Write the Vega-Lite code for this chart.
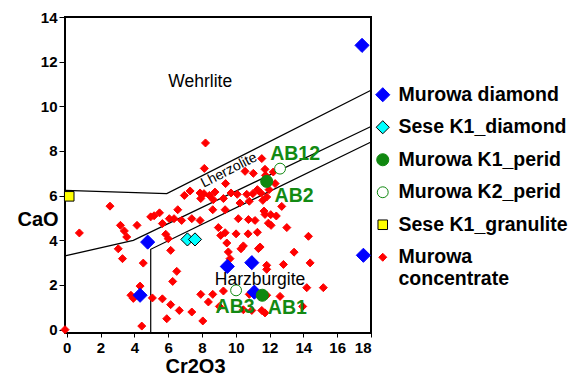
{
  "$schema": "https://vega.github.io/schema/vega-lite/v6.json",
  "width": 306,
  "height": 316,
  "autosize": {"type": "none"},
  "padding": {"left": 65, "top": 17, "right": 200, "bottom": 44},
  "background": "white",
  "config": {
    "view": {"stroke": "black", "strokeWidth": 2},
    "font": "Liberation Sans",
    "axis": {
      "domain": false,
      "grid": false,
      "tickColor": "black",
      "labelColor": "black",
      "labelFont": "Liberation Sans",
      "labelFontWeight": "bold",
      "labelFontSize": 15,
      "titleFont": "Liberation Sans",
      "titleFontWeight": "bold",
      "titleFontSize": 20,
      "titleColor": "black"
    },
    "legend": {
      "orient": "none",
      "legendX": 308,
      "legendY": 68,
      "labelFont": "Liberation Sans",
      "labelFontWeight": "bold",
      "labelFontSize": 19.5,
      "labelColor": "black",
      "labelLimit": 300,
      "labelLineHeight": 16,
      "rowPadding": 11.5,
      "labelOffset": 6
    }
  },
  "datasets": {
    "pts": [
      {"series": "Murowa concentrate", "x": -0.1, "y": 0.0},
      {"series": "Murowa concentrate", "x": 0.75, "y": 4.33},
      {"series": "Murowa concentrate", "x": 2.56, "y": 5.53},
      {"series": "Murowa concentrate", "x": 3.18, "y": 4.67},
      {"series": "Murowa concentrate", "x": 3.41, "y": 4.42},
      {"series": "Murowa concentrate", "x": 3.55, "y": 4.15},
      {"series": "Murowa concentrate", "x": 3.05, "y": 3.62},
      {"series": "Murowa concentrate", "x": 3.3, "y": 3.18},
      {"series": "Murowa concentrate", "x": 4.16, "y": 4.67},
      {"series": "Murowa concentrate", "x": 4.53, "y": 2.98},
      {"series": "Murowa concentrate", "x": 4.34, "y": 1.95},
      {"series": "Murowa concentrate", "x": 3.8, "y": 1.54},
      {"series": "Murowa concentrate", "x": 3.94, "y": 1.4},
      {"series": "Murowa concentrate", "x": 5.07, "y": 1.42},
      {"series": "Murowa concentrate", "x": 4.44, "y": 0.16},
      {"series": "Murowa concentrate", "x": 4.97, "y": 5.05},
      {"series": "Murowa concentrate", "x": 5.17, "y": 5.1},
      {"series": "Murowa concentrate", "x": 5.49, "y": 5.23},
      {"series": "Murowa concentrate", "x": 5.66, "y": 4.75},
      {"series": "Murowa concentrate", "x": 5.86, "y": 4.27},
      {"series": "Murowa concentrate", "x": 6.01, "y": 4.07},
      {"series": "Murowa concentrate", "x": 6.15, "y": 3.55},
      {"series": "Murowa concentrate", "x": 6.07, "y": 4.97},
      {"series": "Murowa concentrate", "x": 6.35, "y": 4.97},
      {"series": "Murowa concentrate", "x": 6.57, "y": 5.37},
      {"series": "Murowa concentrate", "x": 6.96, "y": 6.01},
      {"series": "Murowa concentrate", "x": 7.3, "y": 6.21},
      {"series": "Murowa concentrate", "x": 6.51, "y": 2.61},
      {"series": "Murowa concentrate", "x": 6.27, "y": 2.16},
      {"series": "Murowa concentrate", "x": 5.66, "y": 1.38},
      {"series": "Murowa concentrate", "x": 6.15, "y": 1.12},
      {"series": "Murowa concentrate", "x": 5.92, "y": 0.49},
      {"series": "Murowa concentrate", "x": 6.66, "y": 0.86},
      {"series": "Murowa concentrate", "x": 7.4, "y": 0.79},
      {"series": "Murowa concentrate", "x": 6.8, "y": 4.89},
      {"series": "Murowa concentrate", "x": 7.4, "y": 4.97},
      {"series": "Murowa concentrate", "x": 7.89, "y": 6.12},
      {"series": "Murowa concentrate", "x": 8.12, "y": 6.09},
      {"series": "Murowa concentrate", "x": 8.44, "y": 6.01},
      {"series": "Murowa concentrate", "x": 8.77, "y": 6.16},
      {"series": "Murowa concentrate", "x": 7.93, "y": 5.87},
      {"series": "Murowa concentrate", "x": 8.67, "y": 5.82},
      {"series": "Murowa concentrate", "x": 9.27, "y": 5.87},
      {"series": "Murowa concentrate", "x": 9.72, "y": 6.12},
      {"series": "Murowa concentrate", "x": 10.09, "y": 6.06},
      {"series": "Murowa concentrate", "x": 10.65, "y": 6.06},
      {"series": "Murowa concentrate", "x": 11.01, "y": 6.09},
      {"series": "Murowa concentrate", "x": 11.28, "y": 6.27},
      {"series": "Murowa concentrate", "x": 10.25, "y": 5.67},
      {"series": "Murowa concentrate", "x": 10.8, "y": 5.75},
      {"series": "Murowa concentrate", "x": 7.89, "y": 4.89},
      {"series": "Murowa concentrate", "x": 8.64, "y": 5.37},
      {"series": "Murowa concentrate", "x": 9.37, "y": 5.37},
      {"series": "Murowa concentrate", "x": 10.15, "y": 4.97},
      {"series": "Murowa concentrate", "x": 10.75, "y": 4.93},
      {"series": "Murowa concentrate", "x": 11.14, "y": 4.89},
      {"series": "Murowa concentrate", "x": 8.97, "y": 4.57},
      {"series": "Murowa concentrate", "x": 9.37, "y": 4.34},
      {"series": "Murowa concentrate", "x": 10.02, "y": 4.29},
      {"series": "Murowa concentrate", "x": 10.73, "y": 4.29},
      {"series": "Murowa concentrate", "x": 11.28, "y": 4.36},
      {"series": "Murowa concentrate", "x": 9.11, "y": 4.22},
      {"series": "Murowa concentrate", "x": 9.47, "y": 3.88},
      {"series": "Murowa concentrate", "x": 10.31, "y": 3.62},
      {"series": "Murowa concentrate", "x": 10.45, "y": 3.75},
      {"series": "Murowa concentrate", "x": 11.34, "y": 3.63},
      {"series": "Murowa concentrate", "x": 9.56, "y": 3.48},
      {"series": "Murowa concentrate", "x": 9.66, "y": 3.18},
      {"series": "Murowa concentrate", "x": 9.27, "y": 1.73},
      {"series": "Murowa concentrate", "x": 7.93, "y": 1.58},
      {"series": "Murowa concentrate", "x": 8.64, "y": 1.58},
      {"series": "Murowa concentrate", "x": 8.38, "y": 1.24},
      {"series": "Murowa concentrate", "x": 9.03, "y": 1.04},
      {"series": "Murowa concentrate", "x": 8.05, "y": 0.39},
      {"series": "Murowa concentrate", "x": 10.45, "y": 0.89},
      {"series": "Murowa concentrate", "x": 10.8, "y": 1.58},
      {"series": "Murowa concentrate", "x": 10.95, "y": 0.86},
      {"series": "Murowa concentrate", "x": 8.21, "y": 8.36},
      {"series": "Murowa concentrate", "x": 8.14, "y": 7.22},
      {"series": "Murowa concentrate", "x": 9.4, "y": 6.54},
      {"series": "Murowa concentrate", "x": 10.55, "y": 7.09},
      {"series": "Murowa concentrate", "x": 11.04, "y": 7.0},
      {"series": "Murowa concentrate", "x": 11.54, "y": 7.66},
      {"series": "Murowa concentrate", "x": 11.73, "y": 7.18},
      {"series": "Murowa concentrate", "x": 11.76, "y": 6.91},
      {"series": "Murowa concentrate", "x": 12.33, "y": 6.54},
      {"series": "Murowa concentrate", "x": 11.48, "y": 6.12},
      {"series": "Murowa concentrate", "x": 11.6, "y": 5.79},
      {"series": "Murowa concentrate", "x": 11.83, "y": 5.94},
      {"series": "Murowa concentrate", "x": 11.67, "y": 5.31},
      {"series": "Murowa concentrate", "x": 11.73, "y": 5.16},
      {"series": "Murowa concentrate", "x": 12.07, "y": 5.15},
      {"series": "Murowa concentrate", "x": 12.4, "y": 5.09},
      {"series": "Murowa concentrate", "x": 13.02, "y": 4.57},
      {"series": "Murowa concentrate", "x": 11.93, "y": 4.77},
      {"series": "Murowa concentrate", "x": 12.72, "y": 5.52},
      {"series": "Murowa concentrate", "x": 11.97, "y": 6.27},
      {"series": "Murowa concentrate", "x": 12.22, "y": 7.06},
      {"series": "Murowa concentrate", "x": 14.3, "y": 4.18},
      {"series": "Murowa concentrate", "x": 13.45, "y": 3.47},
      {"series": "Murowa concentrate", "x": 14.4, "y": 2.99},
      {"series": "Murowa concentrate", "x": 11.83, "y": 2.88},
      {"series": "Murowa concentrate", "x": 11.83, "y": 2.7},
      {"series": "Murowa concentrate", "x": 12.82, "y": 2.92},
      {"series": "Murowa concentrate", "x": 11.83, "y": 1.54},
      {"series": "Murowa concentrate", "x": 12.62, "y": 1.49},
      {"series": "Murowa concentrate", "x": 14.2, "y": 1.88},
      {"series": "Murowa concentrate", "x": 15.18, "y": 1.88},
      {"series": "Murowa concentrate", "x": 13.96, "y": 1.04},
      {"series": "Murowa concentrate", "x": 11.54, "y": 0.86},
      {"series": "Murowa concentrate", "x": 11.73, "y": 0.75},
      {"series": "Murowa concentrate", "x": 11.44, "y": 3.7},
      {"series": "Murowa concentrate", "x": 12.09, "y": 4.67},
      {"series": "Murowa diamond", "x": 17.47, "y": 12.73},
      {"series": "Murowa diamond", "x": 4.79, "y": 3.92},
      {"series": "Murowa diamond", "x": 4.34, "y": 1.54},
      {"series": "Murowa diamond", "x": 9.5, "y": 2.83},
      {"series": "Murowa diamond", "x": 10.95, "y": 3.0},
      {"series": "Murowa diamond", "x": 11.1, "y": 1.68},
      {"series": "Murowa diamond", "x": 17.55, "y": 3.33},
      {"series": "Sese K1_diamond", "x": 7.14, "y": 4.04},
      {"series": "Sese K1_diamond", "x": 7.59, "y": 4.04},
      {"series": "Murowa K1_perid", "x": 11.83, "y": 6.64},
      {"series": "Murowa K1_perid", "x": 11.57, "y": 1.54},
      {"series": "Murowa K2_perid", "x": 12.62, "y": 7.21},
      {"series": "Murowa K2_perid", "x": 10.02, "y": 1.76},
      {"series": "Sese K1_granulite", "x": 0.15, "y": 5.97}
    ],
    "lines": [
      {"line": "A", "ord": 1, "x": -0.1, "y": 6.24},
      {"line": "A", "ord": 2, "x": 5.92, "y": 6.09},
      {"line": "A", "ord": 3, "x": 18, "y": 10.72},
      {"line": "B", "ord": 1, "x": -0.1, "y": 3.3},
      {"line": "B", "ord": 2, "x": 3.94, "y": 4.0},
      {"line": "B", "ord": 3, "x": 18, "y": 9.1},
      {"line": "C", "ord": 1, "x": 4.97, "y": -0.15},
      {"line": "C", "ord": 2, "x": 4.97, "y": 3.6},
      {"line": "C", "ord": 3, "x": 18, "y": 8.4}
    ],
    "labels": [
      {"kind": "field", "text": "Wehrlite", "x": 7.9, "y": 11.09},
      {"kind": "field", "text": "Harzburgite", "x": 11.44, "y": 2.24},
      {"kind": "trend", "text": "Lherzolite", "x": 9.6, "y": 7.13},
      {"kind": "sample", "text": "AB12", "x": 13.51, "y": 7.88},
      {"kind": "sample", "text": "AB2", "x": 13.45, "y": 5.97},
      {"kind": "sample", "text": "AB3", "x": 9.96, "y": 1.01},
      {"kind": "sample", "text": "AB1", "x": 13.05, "y": 0.98}
    ]
  },
  "encoding": {
    "x": {
      "field": "x",
      "type": "quantitative",
      "scale": {"domain": [-0.1, 18], "nice": false, "zero": false},
      "axis": {
        "title": "Cr2O3",
        "values": [0, 2, 4, 6, 8, 10, 12, 14, 16, 18],
        "tickSize": 4,
        "labelPadding": 3,
        "titleX": 130,
        "titleY": 39,
        "titleAlign": "center",
        "titleBaseline": "alphabetic"
      }
    },
    "y": {
      "field": "y",
      "type": "quantitative",
      "scale": {"domain": [-0.15, 14], "nice": false, "zero": false},
      "axis": {
        "title": "CaO",
        "values": [0, 2, 4, 6, 8, 10, 12, 14],
        "tickSize": 6,
        "labelPadding": 2,
        "titleAngle": 0,
        "titleX": -27.5,
        "titleY": 208,
        "titleAlign": "center",
        "titleBaseline": "alphabetic"
      }
    }
  },
  "layer": [
    {
      "data": {"name": "lines"},
      "mark": {"type": "line", "color": "black", "strokeWidth": 1.2},
      "encoding": {
        "detail": {"field": "line", "type": "nominal"},
        "order": {"field": "ord", "type": "quantitative"}
      }
    },
    {
      "data": {"name": "pts"},
      "mark": {"type": "point", "filled": true, "opacity": 1},
      "encoding": {
        "shape": {
          "field": "series", "type": "nominal",
          "scale": {
            "domain": ["Murowa diamond", "Sese K1_diamond", "Murowa K1_perid", "Murowa K2_perid", "Sese K1_granulite", "Murowa concentrate"],
            "range": ["diamond", "diamond", "circle", "circle", "square", "diamond"]
          },
          "legend": {"title": null, "labelExpr": "datum.label == 'Murowa concentrate' ? ['Murowa', 'concentrate'] : datum.label"}
        },
        "fill": {
          "field": "series", "type": "nominal",
          "scale": {
            "domain": ["Murowa diamond", "Sese K1_diamond", "Murowa K1_perid", "Murowa K2_perid", "Sese K1_granulite", "Murowa concentrate"],
            "range": ["#0000ff", "#00ffff", "#108810", "#ffffff", "#ffff00", "#ff0000"]
          },
          "legend": {"title": null, "labelExpr": "datum.label == 'Murowa concentrate' ? ['Murowa', 'concentrate'] : datum.label"}
        },
        "stroke": {
          "field": "series", "type": "nominal",
          "scale": {
            "domain": ["Murowa diamond", "Sese K1_diamond", "Murowa K1_perid", "Murowa K2_perid", "Sese K1_granulite", "Murowa concentrate"],
            "range": ["#0000ff", "#000000", "#108810", "#108810", "#000000", "#ff0000"]
          },
          "legend": {"title": null, "labelExpr": "datum.label == 'Murowa concentrate' ? ['Murowa', 'concentrate'] : datum.label"}
        },
        "size": {
          "field": "series", "type": "nominal",
          "scale": {
            "domain": ["Murowa diamond", "Sese K1_diamond", "Murowa K1_perid", "Murowa K2_perid", "Sese K1_granulite", "Murowa concentrate"],
            "range": [200, 64, 144, 121, 81, 15]
          },
          "legend": {"title": null, "labelExpr": "datum.label == 'Murowa concentrate' ? ['Murowa', 'concentrate'] : datum.label"}
        },
        "strokeWidth": {
          "field": "series", "type": "nominal",
          "scale": {
            "domain": ["Murowa diamond", "Sese K1_diamond", "Murowa K1_perid", "Murowa K2_perid", "Sese K1_granulite", "Murowa concentrate"],
            "range": [1, 1, 1, 2, 2, 0.8]
          },
          "legend": {"title": null, "labelExpr": "datum.label == 'Murowa concentrate' ? ['Murowa', 'concentrate'] : datum.label"}
        }
      }
    },
    {
      "data": {"name": "labels"},
      "transform": [{"filter": "datum.kind == 'field'"}],
      "mark": {"type": "text", "font": "Liberation Sans", "fontSize": 17.5, "color": "black", "align": "center", "baseline": "middle"},
      "encoding": {"text": {"field": "text", "type": "nominal"}}
    },
    {
      "data": {"name": "labels"},
      "transform": [{"filter": "datum.kind == 'trend'"}],
      "mark": {"type": "text", "font": "Liberation Sans", "fontSize": 14, "color": "black", "align": "center", "baseline": "middle", "angle": -27},
      "encoding": {"text": {"field": "text", "type": "nominal"}}
    },
    {
      "data": {"name": "labels"},
      "transform": [{"filter": "datum.kind == 'sample'"}],
      "mark": {"type": "text", "font": "Liberation Sans", "fontSize": 19.5, "fontWeight": "bold", "color": "#138a13", "align": "center", "baseline": "middle"},
      "encoding": {"text": {"field": "text", "type": "nominal"}}
    }
  ]
}
